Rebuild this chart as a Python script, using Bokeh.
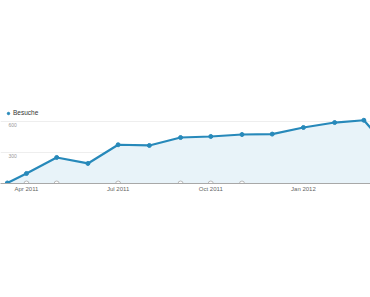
from datetime import datetime
from bokeh.plotting import figure
from bokeh.models import (ColumnDataSource, FixedTicker, DatetimeTickFormatter, Range1d,
                          Label, Legend, LegendItem)
from bokeh.embed import file_html
from bokeh.resources import INLINE

# ---- data ----
dates = ["2011-03-13", "2011-04-01", "2011-05-01", "2011-06-01", "2011-07-01", "2011-08-01",
         "2011-09-01", "2011-10-01", "2011-11-01", "2011-12-01", "2012-01-01", "2012-02-01",
         "2012-03-01", "2012-04-01"]
besuche = [5, 97, 252, 194, 375, 368, 445, 455, 474, 478, 542, 590, 612, 270]
tick_dates = ["2011-04-01", "2011-07-01", "2011-10-01", "2012-01-01"]
y_ticks = [300, 600]
y_tick_labels = ["300", "600"]
annotation_dates = ["2011-04-01", "2011-05-01", "2011-07-01", "2011-09-01", "2011-10-01", "2011-11-01"]
series_name = "Besuche"

def ms(s):
    return datetime.strptime(s, "%Y-%m-%d").timestamp() * 1000.0

x = [ms(d) for d in dates]
src = ColumnDataSource(dict(x=x, y=besuche, base=[0] * len(x)))
ann = ColumnDataSource(dict(x=[ms(d) for d in annotation_dates], y=[0] * len(annotation_dates)))

DAY = 86400000.0
x0 = ms("2011-04-01") - 25.8 * DAY
x1 = ms("2011-04-01") + 341.6 * DAY

LINE = "#2789ba"
FILL = "#e8f3f9"
FONT = "Liberation Sans"

p = figure(width=370, height=297, output_backend="svg", toolbar_location=None,
           x_range=Range1d(x0, x1), y_range=Range1d(0, 1771),
           min_border_left=0, min_border_right=0, min_border_top=0, min_border_bottom=114,
           x_axis_type="datetime")
p.outline_line_color = None
p.background_fill_color = "white"
p.border_fill_color = "white"

p.varea(x="x", y1="base", y2="y", source=src, fill_color=FILL, fill_alpha=1.0)
p.scatter(x="x", y="y", source=ann, size=5, marker="circle", fill_color="white",
          line_color="#b8b8b8", line_width=1)
p.line(x="x", y="y", source=src, line_color=LINE, line_width=2.2)
pts = p.scatter(x="x", y="y", source=src, size=4, fill_color=LINE, line_color=LINE)

# axes
p.yaxis.visible = False
p.ygrid.ticker = FixedTicker(ticks=y_ticks)
p.ygrid.grid_line_color = "#eeeeee"
p.xgrid.grid_line_color = None

xa = p.xaxis[0]
xa.ticker = FixedTicker(ticks=[ms(d) for d in tick_dates])
fmt = "%b %Y"
xa.formatter = DatetimeTickFormatter(days=fmt, months=fmt, years=fmt, hours=fmt,
                                     minutes=fmt, seconds=fmt, milliseconds=fmt,
                                     microseconds=fmt, minsec=fmt, hourmin=fmt)
xa.axis_line_color = "#a8a8a8"
xa.axis_line_width = 1
xa.major_tick_line_color = None
xa.minor_tick_line_color = None
xa.major_tick_out = 0
xa.major_tick_in = 0
xa.minor_tick_out = 0
xa.major_label_text_font = FONT
xa.major_label_text_font_size = "6px"
xa.major_label_text_color = "#666666"
xa.major_label_standoff = 2

for v, t in zip(y_ticks, y_tick_labels):
    p.add_layout(Label(x=8, x_units="screen", y=v, y_units="data", text=t,
                       y_offset=-1, text_baseline="top", text_font=FONT,
                       text_font_size="5px", text_color="#999999"))

legend = Legend(items=[LegendItem(label=series_name, renderers=[pts])],
                location=(5, 67), orientation="horizontal",
                glyph_width=6, glyph_height=6, padding=0, margin=0, spacing=0,
                label_standoff=2, label_text_font=FONT, label_text_font_size="6.5px",
                label_text_color="#333333", border_line_color=None,
                background_fill_alpha=0, label_height=6)
p.add_layout(legend)

open("out.html", "w").write(file_html(p, INLINE))
